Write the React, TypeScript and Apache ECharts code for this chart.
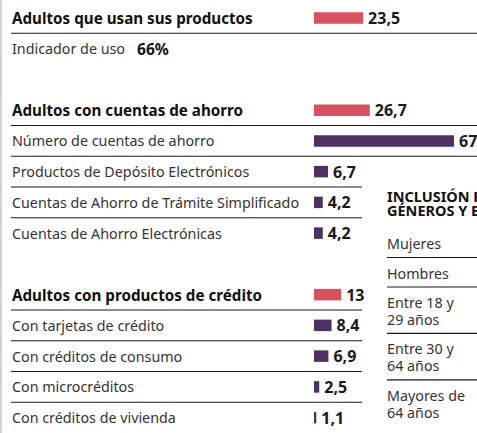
import React, { useEffect, useRef } from 'react';
import * as echarts from 'echarts';

// ---- data ----
const rowLabels = [
  'Adultos que usan sus productos',
  'Indicador de uso',
  '',
  'Adultos con cuentas de ahorro',
  'Número de cuentas de ahorro',
  'Productos de Depósito Electrónicos',
  'Cuentas de Ahorro de Trámite Simplificado',
  'Cuentas de Ahorro Electrónicas',
  '',
  'Adultos con productos de crédito',
  'Con tarjetas de crédito',
  'Con créditos de consumo',
  'Con microcréditos',
  'Con créditos de vivienda',
];
const rowValues: (number | null)[] = [23.5, null, null, 26.7, 67, 6.7, 4.2, 4.2, null, 13, 8.4, 6.9, 2.5, 1.1];
const headerRows = [0, 3, 9];
const indicatorRow = 1;
const indicatorValue = '66%';
const fullWidthRules = [0, 3, 4];
const shortRules = [5, 6, 9, 10, 11, 12];

const panelTitle = ['INCLUSIÓN POR', 'GÉNEROS Y EDADES'];
const panelRows: string[][] = [
  ['Mujeres'],
  ['Hombres'],
  ['Entre 18 y', '29 años'],
  ['Entre 30 y', '64 años'],
  ['Mayores de', '64 años'],
];

// ---- style ----
const FONT = "'Noto Sans', sans-serif";
const PINK = '#d9505f';
const PURPLE = '#4e3063';
const RULE = '#1a1a1a';

export default function App() {
  const ref = useRef<HTMLDivElement>(null);

  useEffect(() => {
    document.body.style.margin = '0';
    const el = ref.current;
    if (!el) return;
    const chart = echarts.init(el, undefined, { renderer: 'svg' });

    const axisData = rowLabels.map((l, i) => l || `__blank${i}`);

    const option: any = {
      animation: false,
      grid: { left: 314, right: 0, top: 2.5, height: 435.5 },
      xAxis: { type: 'value', min: 0, max: 78, show: false },
      yAxis: {
        type: 'category',
        inverse: true,
        data: axisData,
        axisLine: { show: false },
        axisTick: { show: false },
        splitLine: { show: false },
        axisLabel: {
          interval: 0,
          align: 'left',
          margin: 302,
          formatter: (_v: string, i: number) => {
            const l = rowLabels[i];
            if (!l) return '';
            if (headerRows.includes(i)) return `{h|${l}}`;
            if (i === indicatorRow) return `{n|${l}}{b|${indicatorValue}}`;
            return `{n|${l}}`;
          },
          rich: {
            h: { fontFamily: FONT, fontWeight: 'bold', fontSize: 15.2, color: '#111' },
            n: { fontFamily: FONT, fontSize: 14.3, color: '#333' },
            b: { fontFamily: FONT, fontWeight: 'bold', fontSize: 15.5, color: '#111', padding: [0, 0, 0, 12] },
          },
        },
      },
      series: [
        {
          type: 'bar',
          barWidth: 11.5,
          data: rowValues.map((v, i) =>
            v == null ? '-' : { value: v, itemStyle: { color: headerRows.includes(i) ? PINK : PURPLE } }
          ),
          label: {
            show: true,
            position: 'right',
            distance: 5,
            formatter: (p: any) => String(p.value).replace('.', ','),
            fontFamily: FONT,
            fontWeight: 'bold',
            fontSize: 16,
            color: '#1a1a1a',
          },
        },
      ],
    };
    chart.setOption(option);

    const yOf = (i: number) => chart.convertToPixel({ yAxisIndex: 0 } as any, axisData[i]) as number;
    const boundary = (i: number) => (yOf(i) + yOf(i + 1)) / 2;

    const graphics: any[] = [];
    graphics.push({ type: 'rect', shape: { x: 0, y: 0, width: 2, height: 433 }, style: { fill: '#d4d4d4' } });
    fullWidthRules.forEach((i) => {
      const y = boundary(i);
      graphics.push({ type: 'line', shape: { x1: 11, y1: y, x2: 477, y2: y }, style: { stroke: RULE, lineWidth: 1.2 } });
    });
    shortRules.forEach((i) => {
      const y = boundary(i);
      graphics.push({ type: 'line', shape: { x1: 11, y1: y, x2: 362, y2: y }, style: { stroke: RULE, lineWidth: 1.2 } });
    });

    // right panel
    const px = 387;
    graphics.push({
      type: 'text',
      x: px,
      y: 202.5,
      style: {
        text: panelTitle.join('\n'),
        fontFamily: FONT,
        fontWeight: 'bold',
        fontSize: 14.5,
        lineHeight: 14,
        fill: '#111',
        verticalAlign: 'middle',
        align: 'left',
      },
    });
    let top = 228;
    const pitch = 16.9;
    panelRows.forEach((lines, r) => {
      const first = top + 15.5;
      const last = first + (lines.length - 1) * pitch;
      graphics.push({
        type: 'text',
        x: px,
        y: (first + last) / 2,
        style: {
          text: lines.join('\n'),
          fontFamily: FONT,
          fontSize: 14.3,
          lineHeight: pitch,
          fill: '#333',
          verticalAlign: 'middle',
          align: 'left',
        },
      });
      if (r < panelRows.length - 1) {
        const ly = last + 14;
        graphics.push({ type: 'line', shape: { x1: px, y1: ly, x2: 477, y2: ly }, style: { stroke: RULE, lineWidth: 1.2 } });
        top = ly;
      }
    });

    chart.setOption({ graphic: graphics });

    return () => chart.dispose();
  }, []);

  return <div ref={ref} style={{ width: 477, height: 433 }} />;
}
